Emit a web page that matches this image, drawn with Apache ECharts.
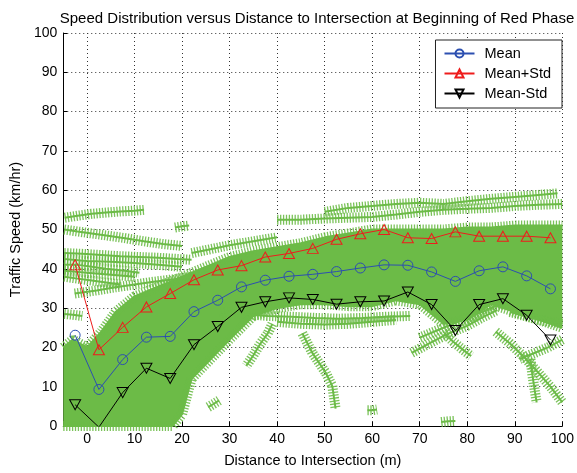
<!DOCTYPE html>
<html>
<head>
<meta charset="utf-8">
<script src="https://cdn.jsdelivr.net/npm/echarts@6/dist/echarts.min.js"></script>
<style>
  html, body { margin: 0; padding: 0; background: #fff; }
  #chart { width: 577px; height: 473px; }
</style>
</head>
<body>
<div id="chart"></div>
<script>
(function () {
  "use strict";

  // x positions of the bins (m)
  const distance = [-2.5, 2.5, 7.5, 12.5, 17.5, 22.5, 27.5, 32.5, 37.5, 42.5, 47.5,
    52.5, 57.5, 62.5, 67.5, 72.5, 77.5, 82.5, 87.5, 92.5, 97.5];
  const meanSpeed = [23.1, 9.3, 16.9, 22.6, 22.8, 29.1, 32.0, 35.4, 37.1, 38.1, 38.6,
    39.3, 40.2, 41.0, 40.9, 39.2, 36.8, 39.5, 40.5, 38.2, 34.9];
  const meanPlusStd = [41.0, 19.4, 25.1, 30.3, 33.7, 37.2, 39.7, 40.8, 43.0, 43.9, 45.2,
    47.5, 48.9, 50.0, 47.9, 47.7, 49.4, 48.3, 48.3, 48.3, 47.9];
  const meanMinusStd = [5.4, -0.3, 8.5, 14.7, 12.1, 20.7, 25.3, 30.2, 31.6, 32.6, 32.2,
    31.0, 31.6, 31.8, 34.1, 30.9, 24.3, 30.9, 32.4, 28.2, 21.9];

  const xTicks = [0, 10, 20, 30, 40, 50, 60, 70, 80, 90, 100];

  // dense part of the raw speed samples (upper / lower edge)
  const bandDistance = [-5, -3, 0, 3, 6, 10, 14, 18, 20, 22, 26, 30, 35, 40, 45, 50, 55, 60, 65, 70, 75, 80, 85, 90, 95, 100];
  const bandUpper = [20, 22, 20, 24, 29, 33, 35, 37, 38, 39, 41, 43, 44.5, 45.5, 46.5, 48, 49, 50, 50, 50, 50, 50.5, 50.5, 51, 51, 51];
  const bandLower = [0, 0, 0, 0, 0, 0, 0, 0, 3, 12, 17, 22, 28, 30, 31, 31, 30.5, 30.5, 32, 31, 26, 27, 31, 29, 27, 25];

  // individual vehicle traces outside the dense band
  const traces = [
    [[-4.7, 53], [-2, 53.5], [1, 54], [4, 54.3], [7, 54.6], [10, 54.8], [12, 55]],
    [[-4.8, 50], [-2, 49.5], [1, 49], [4, 48.5], [8, 47.8], [12, 47], [16, 46.3], [20, 45.8]],
    [[-4.8, 44], [-1, 43.8], [3, 43.5], [7, 43.2], [11, 43], [15, 42.8], [19, 42.5], [22, 42.3]],
    [[-4.8, 42.5], [0, 42], [5, 41.8], [10, 41.5], [15, 41], [20, 40.5]],
    [[-4.8, 41], [-2, 41], [1, 40.5], [4, 40], [8, 39.5], [11, 39]],
    [[-4.8, 39.5], [0, 39], [5, 38.5], [10, 38]],
    [[-4.8, 38], [-2, 37.5], [1, 37], [4, 36.5], [7, 36]],
    [[-2.6, 33.7], [2, 34.5], [6, 35.3], [10, 36], [14, 36.7], [18, 37.3], [22, 38]],
    [[-4.8, 28.5], [-3, 28.3], [-1, 28]],
    [[18.5, 50.5], [20, 50.8], [21.5, 51]],
    [[22, 44], [26, 45], [30, 46], [35, 47], [40, 48]],
    [[50, 54.5], [55, 55.5], [60, 56], [65, 56.5], [70, 56.8], [75, 56.5], [80, 57.2], [85, 57.8], [90, 58.3], [95, 58.8], [99, 59.2]],
    [[40, 52.5], [45, 52.5], [50, 52.8], [55, 53], [60, 53.2], [65, 53.8], [70, 54.5], [75, 55], [80, 55.3], [85, 55.5], [90, 56], [95, 56.3], [100, 56.5]],
    [[28, 29], [33, 28.5], [38, 28], [43, 27.8], [48, 27.5], [53, 27.3], [58, 27.5], [63, 27.8], [68, 28]],
    [[40, 26.5], [45, 26], [50, 25.8], [55, 26], [60, 26.5], [65, 27]],
    [[39, 26], [38, 23.5], [36.5, 21], [35, 18], [33.5, 15.3]],
    [[45.3, 23.6], [47.4, 18.6], [50.2, 13.6], [51.6, 10.2], [52.3, 4.4]],
    [[25.5, 4.8], [26.6, 5.6], [27.8, 6.5]],
    [[59, 4], [60, 4], [61, 4.2]],
    [[74.5, 1], [76, 1.2], [77.5, 1.3]],
    [[68.3, 18.6], [72, 21], [76, 23.5], [80, 25.5], [83, 27.5], [86.3, 29.5]],
    [[70, 22.5], [74, 24.5], [78, 26.5], [82, 28.5], [86, 30.5], [88.4, 31.2]],
    [[75.2, 23.6], [77, 21.5], [79, 19.5], [80.8, 17.8]],
    [[86, 24], [89, 21], [92, 17.5], [95, 13.5], [97.5, 10], [100, 6]],
    [[100, 22], [97, 20], [94, 18.5], [91, 17]],
    [[93.3, 17], [93.7, 13], [94.2, 9], [94.6, 6]],
    [[89, 29], [92, 28], [95, 27], [100, 26]]
  ];

  const green = '#6cbb47';
  const font = '"Liberation Sans", Arial, sans-serif';

  const chart = echarts.init(document.getElementById('chart'));

  // every trace is drawn twice: a thin stroke and a thick dashed "comb"
  // that gives the row-of-crosses look of the plotted samples
  function traceSeries(points) {
    return [
      {
        type: 'line', data: points, z: 2, silent: true, symbol: 'none',
        lineStyle: { color: green, width: 2 }
      },
      {
        type: 'line', data: points, z: 2, silent: true, symbol: 'none',
        lineStyle: { color: green, width: 10, type: [1.3, 1.6], opacity: 0.9 }
      }
    ];
  }

  const bandEdges = [
    bandDistance.map((x, i) => [x, bandUpper[i]]),
    bandDistance.map((x, i) => [x, bandLower[i]])
  ];

  let greenSeries = [];
  traces.concat(bandEdges).forEach(t => { greenSeries = greenSeries.concat(traceSeries(t)); });

  chart.setOption({
    animation: false,
    textStyle: { fontFamily: font },
    title: {
      text: 'Speed Distribution versus Distance to Intersection at Beginning of Red Phase',
      left: 312,
      top: 6,
      textAlign: 'center',
      textStyle: { fontSize: 15, fontWeight: 'normal', color: '#000', fontFamily: font }
    },
    legend: {
      data: ['Mean', 'Mean+Std', 'Mean-Std'],
      orient: 'vertical',
      right: 15,
      top: 40,
      itemWidth: 30,
      itemHeight: 10,
      itemGap: 5,
      padding: [6, 11, 7, 8],
      borderColor: '#222',
      borderWidth: 1,
      backgroundColor: '#fff',
      textStyle: { fontSize: 14.5, color: '#000', fontFamily: font, padding: [0, 0, 0, 5] }
    },
    grid: { left: 63, right: 11, top: 33, bottom: 43 },
    xAxis: {
      type: 'value',
      min: -5,
      max: 100,
      name: 'Distance to Intersection (m)',
      nameLocation: 'middle',
      nameGap: 27,
      nameTextStyle: { fontSize: 14.5, color: '#000' },
      axisLine: { show: true, onZero: false, lineStyle: { color: '#000', width: 1 } },
      axisTick: { inside: true, length: 4, customValues: xTicks, lineStyle: { color: '#000' } },
      axisLabel: { customValues: xTicks, fontSize: 14, color: '#000', margin: 6 },
      splitLine: { show: true, lineStyle: { type: [1, 3], color: '#333' } }
    },
    yAxis: {
      type: 'value',
      min: 0,
      max: 100,
      interval: 10,
      name: 'Traffic Speed (km/hr)',
      nameLocation: 'middle',
      nameGap: 37,
      nameTextStyle: { fontSize: 14.5, color: '#000' },
      axisLine: { show: true, onZero: false, lineStyle: { color: '#000', width: 1 } },
      axisTick: { inside: true, length: 4, lineStyle: { color: '#000' } },
      axisLabel: { fontSize: 14, color: '#000', margin: 6 },
      splitLine: { show: true, lineStyle: { type: [1, 3], color: '#333' } }
    },
    series: [
      {
        type: 'custom',
        silent: true,
        z: 1,
        data: [[0, 0]],
        renderItem: function (params, api) {
          const pts = [];
          bandDistance.forEach((x, i) => pts.push(api.coord([x, bandUpper[i]])));
          for (let i = bandDistance.length - 1; i >= 0; i--) {
            pts.push(api.coord([bandDistance[i], bandLower[i]]));
          }
          return { type: 'polygon', shape: { points: pts }, style: { fill: green } };
        }
      }
    ].concat(greenSeries, [
      {
        name: 'Mean',
        type: 'line',
        z: 5,
        data: distance.map((x, i) => [x, meanSpeed[i]]),
        symbol: 'circle',
        symbolSize: 10,
        itemStyle: { color: 'rgba(0,0,0,0)', borderColor: '#2c4fb0', borderWidth: 1 },
        lineStyle: { color: '#2c4fb0', width: 1 }
      },
      {
        name: 'Mean+Std',
        type: 'line',
        z: 5,
        data: distance.map((x, i) => [x, meanPlusStd[i]]),
        symbol: 'triangle',
        symbolSize: [11, 10],
        itemStyle: { color: 'rgba(0,0,0,0)', borderColor: '#ee1c1c', borderWidth: 1 },
        lineStyle: { color: '#ee1c1c', width: 1 }
      },
      {
        name: 'Mean-Std',
        type: 'line',
        z: 5,
        data: distance.map((x, i) => [x, meanMinusStd[i]]),
        symbol: 'triangle',
        symbolRotate: 180,
        symbolSize: [11, 10],
        itemStyle: { color: 'rgba(0,0,0,0)', borderColor: '#000', borderWidth: 1 },
        lineStyle: { color: '#000', width: 1 }
      }
    ])
  });
})();
</script>
</body>
</html>
